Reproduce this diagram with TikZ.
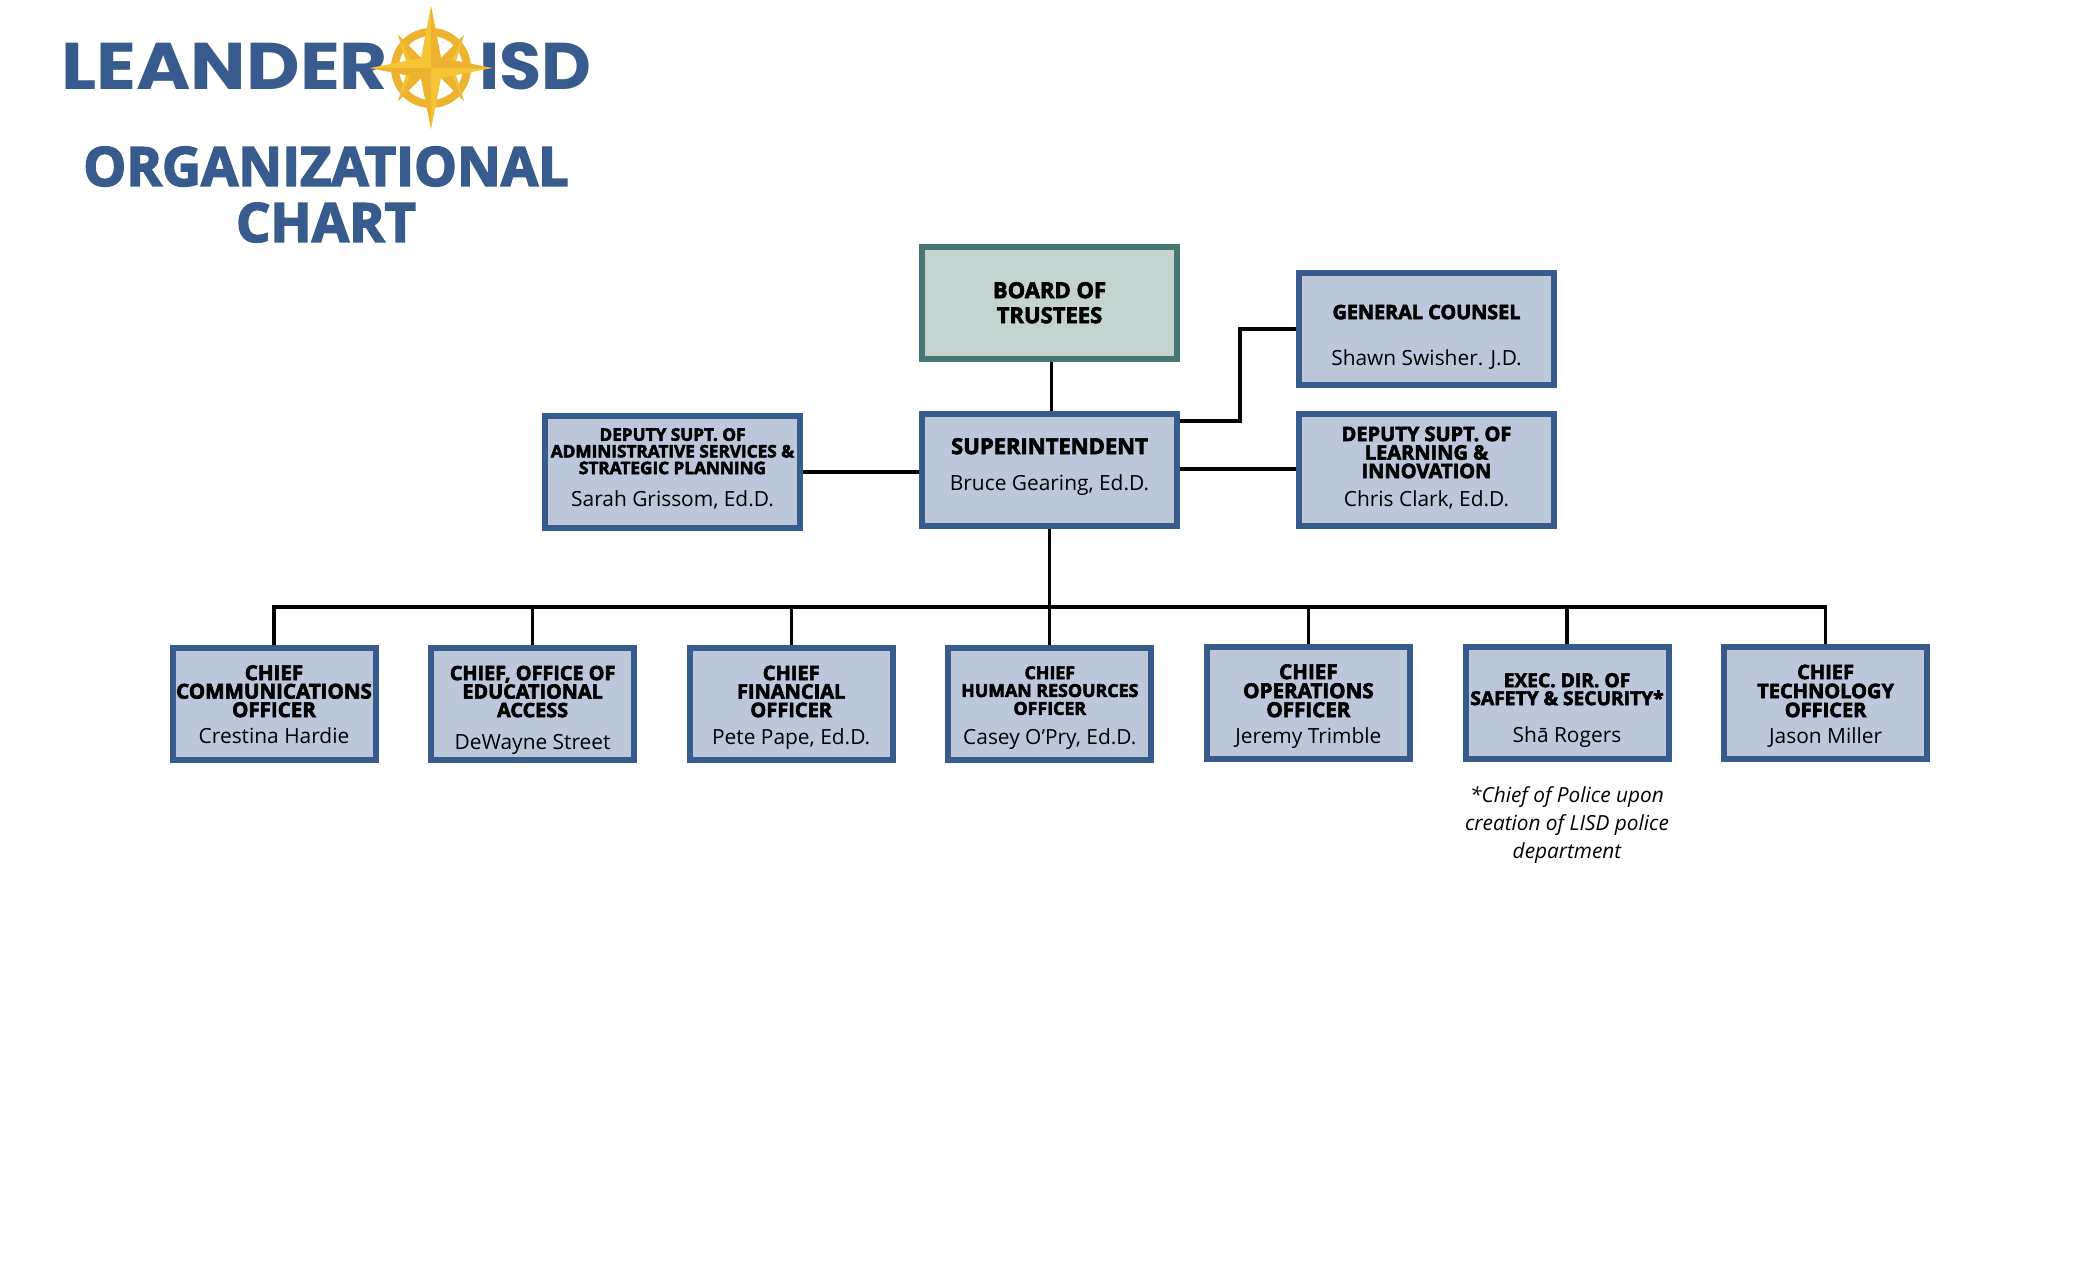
\documentclass[tikz,border=0pt]{standalone}
\usepackage{fontspec}
\usetikzlibrary{positioning}
\setmainfont{Open Sans}
\newfontfamily\heavyfont{Open Sans}[BoldFeatures={FakeBold=3}]
\newfontfamily\logofont{Poppins}
\definecolor{boxblue}{HTML}{365B8C}
\definecolor{boxfill}{HTML}{BCC8D9}
\definecolor{boardgreen}{HTML}{487672}
\definecolor{boardfill}{HTML}{C2D3D0}
\definecolor{stargold}{HTML}{F4C535}
\definecolor{stardark}{HTML}{EDB32E}
% [width] heading size, leading, heading, gap, name, lift
\newcommand{\bttext}[7][100pt]{\parbox{#1}{\centering{\heavyfont\bfseries\fontsize{#2}{#3}\selectfont #4\par}%
  \vspace{#5}{\fontsize{10.45}{12}\selectfont #6\strut\par}\vspace{#7}}}
\tikzstyle{bt} = [rectangle, draw=boxblue, fill=boxfill, line width=3pt,
    minimum width=127.5pt, minimum height=56pt, inner sep=0pt]
\tikzstyle{rowbt} = [bt, minimum width=101.5pt]
\tikzstyle{board} = [bt, draw=boardgreen, fill=boardfill]
\tikzstyle{link} = [black, line width=1.6pt]
\begin{document}
\begin{tikzpicture}[x=0.5pt,y=-0.5pt,node distance=129.3pt,every node/.style={text=black}]
  \useasboundingbox (0,0) rectangle (2100,1274);

  % logo and title
  \node[font=\logofont\bfseries\fontsize{33}{33}\selectfont\addfontfeature{FakeStretch=1.118},text=boxblue,anchor=base west,inner sep=0pt] (leander) at (61,89) {LEANDER};
  \node[font=\logofont\bfseries\fontsize{33}{33}\selectfont\addfontfeature{FakeStretch=1.04},text=boxblue,anchor=base west,inner sep=0pt] (isd) at (479,89) {ISD};
  \draw[stardark,line width=4pt] (431,68) circle (36);
  \fill[stargold] (431,68) -- (443,56) -- (464,35) -- (454,68) -- (464,101) -- (443,80) -- (431,68) -- (419,80) -- (398,101) -- (408,68) -- (398,35) -- (419,56) -- cycle;
  \fill[stardark] (431,68) -- (464,35) -- (448,68) -- (464,101) -- (431,68) -- (398,101) -- (414,68) -- (398,35) -- cycle;
  \fill[stargold] (431,6) -- (441,58) -- (492,68) -- (441,78) -- (431,129) -- (421,78) -- (370,68) -- (421,58) -- cycle;
  \fill[stardark] (431,6) -- (441,58) -- (492,68) -- (431,68) -- (431,129) -- (421,78) -- (370,68) -- (431,68) -- cycle;
  \node[font=\heavyfont\bfseries\fontsize{27}{28}\selectfont,text=boxblue,align=center] (chart) at (326,194.5) {ORGANIZATIONAL\\CHART};

  % top of the chart
  \node[board]  (board) at (1049.5,303) {\bttext[125pt]{11}{12.5}{BOARD OF\\TRUSTEES}{0pt}{}{-15.25pt}};
  \node[bt,node distance=83.25pt] (sup) [below of=board] {\bttext[125pt]{11}{12.5}{SUPERINTENDENT}{6pt}{Bruce Gearing, Ed.D.}{1.75pt}};
  \node[bt]     (counsel) at (1426.5,328.5) {\bttext[125pt]{9.9}{12}{GENERAL COUNSEL}{11pt}{Shawn Swisher. J.D.}{-10.05pt}};
  \node[bt]     (learning) at (1426.5,469.5) {\bttext[125pt]{10}{9.25}{DEPUTY SUPT. OF\\LEARNING \&\\INNOVATION}{2pt}{Chris Clark, Ed.D.}{-.45pt}};
  \node[bt]     (admin) at (672.5,472) {\bttext[125pt]{8.6}{8.33}{DEPUTY SUPT. OF\\ADMINISTRATIVE SERVICES \&\\STRATEGIC PLANNING}{4pt}{Sarah Grissom, Ed.D.}{1.2pt}};

  % row of chiefs
  \node[rowbt]  (comm) at (274,704) {\bttext{10.27}{9.25}{CHIEF\\COMMUNICATIONS\\OFFICER}{1pt}{Crestina Hardie}{-3.75pt}};
  \node[rowbt]  (access) [right of=comm] {\bttext{9.9}{9.25}{CHIEF, OFFICE OF\\EDUCATIONAL\\ACCESS}{4pt}{DeWayne Street}{-7.05pt}};
  \node[rowbt]  (finance) [right of=access] {\bttext{10}{9.25}{CHIEF\\FINANCIAL\\OFFICER}{1.5pt}{Pete Pape, Ed.D.}{-4.45pt}};
  \node[rowbt]  (hr) [right of=finance] {\bttext{8.9}{8.93}{CHIEF\\HUMAN RESOURCES\\OFFICER}{2.65pt}{Casey O’Pry, Ed.D.}{-4.75pt}};
  \node[rowbt]  (ops) [right of=hr,yshift=.5pt] {\bttext{10.3}{9.5}{CHIEF\\OPERATIONS\\OFFICER}{1pt}{Jeremy Trimble}{-4.25pt}};
  \node[rowbt]  (safety) [right of=ops] {\bttext{9.6}{9}{EXEC. DIR. OF\\SAFETY \& SECURITY*}{6.5pt}{Shā Rogers}{-8.25pt}};
  \node[rowbt]  (tech) [right of=safety] {\bttext{10}{9.5}{CHIEF\\TECHNOLOGY\\OFFICER}{1pt}{Jason Miller}{-4.45pt}};
  \node[font=\itshape\fontsize{10.4}{14}\selectfont,align=center,below=9pt of safety] (note) {*Chief of Police upon\\creation of LISD police\\department};

  \coordinate (busleft) at (comm.north |- 0,607);
  \coordinate (busright) at (tech.north |- 0,607);
  \coordinate (counselbend) at (1240,329);

  \path[link] ([xshift=1pt]board.south) edge ([xshift=1pt]sup.north)
    (admin.east |- 0,472) edge (sup.west |- 0,472)
    (sup.east |- 0,469) edge (learning.west |- 0,469);
  \draw[link] (sup.east |- 0,421) -| (counselbend) -- (counsel.west |- counselbend);
  \draw[link] (sup) -- (sup |- busleft);
  \draw[link] (comm) |- (busleft) -- (busright) -- (tech);
  \foreach \chief in {access,finance,hr,ops,safety}
    \draw[link] (\chief) -- (\chief |- busleft);
\end{tikzpicture}
\end{document}
